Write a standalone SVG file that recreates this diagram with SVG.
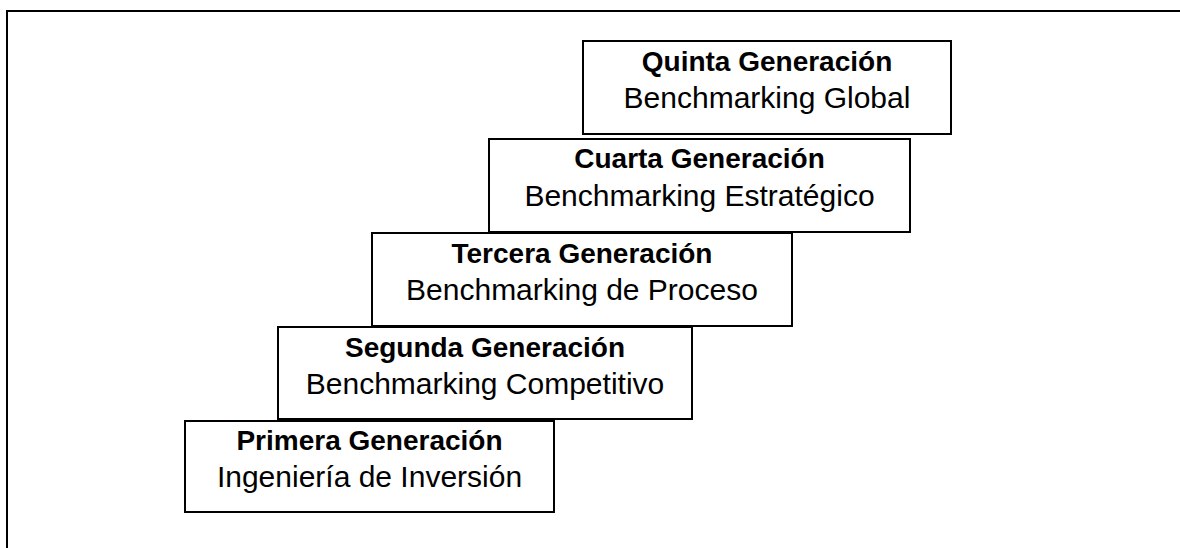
<svg xmlns="http://www.w3.org/2000/svg" width="1180" height="548" viewBox="0 0 1180 548">
<style>
.box{fill:#fff;stroke:#000;stroke-width:2}
.b{font-family:"Liberation Sans",Arial,sans-serif;font-weight:bold;font-size:28px;text-anchor:middle;fill:#000}
.r{font-family:"Liberation Sans",Arial,sans-serif;font-size:30px;text-anchor:middle;fill:#000}
</style>
<rect x="0" y="0" width="1180" height="548" fill="#fff"/>
<path d="M7,548 V11 H1180" fill="none" stroke="#000" stroke-width="2"/>
<g id="connectors"></g>
<g id="n5">
<rect class="box" x="583" y="41" width="368" height="93"/>
<text class="b" x="767" y="71">Quinta Generación</text>
<text class="r" x="767" y="108">Benchmarking Global</text>
</g>
<g id="n4">
<rect class="box" x="489" y="139" width="421" height="93"/>
<text class="b" x="699.5" y="168">Cuarta Generación</text>
<text class="r" x="699.5" y="206">Benchmarking Estratégico</text>
</g>
<g id="n3">
<rect class="box" x="372" y="233" width="420" height="93"/>
<text class="b" x="582" y="263">Tercera Generación</text>
<text class="r" x="582" y="300">Benchmarking de Proceso</text>
</g>
<g id="n2">
<rect class="box" x="278" y="327" width="414" height="92"/>
<text class="b" x="485" y="357">Segunda Generación</text>
<text class="r" x="485" y="394">Benchmarking Competitivo</text>
</g>
<g id="n1">
<rect class="box" x="185" y="421" width="369" height="91"/>
<text class="b" x="369.5" y="450">Primera Generación</text>
<text class="r" x="369.5" y="487">Ingeniería de Inversión</text>
</g>
</svg>
